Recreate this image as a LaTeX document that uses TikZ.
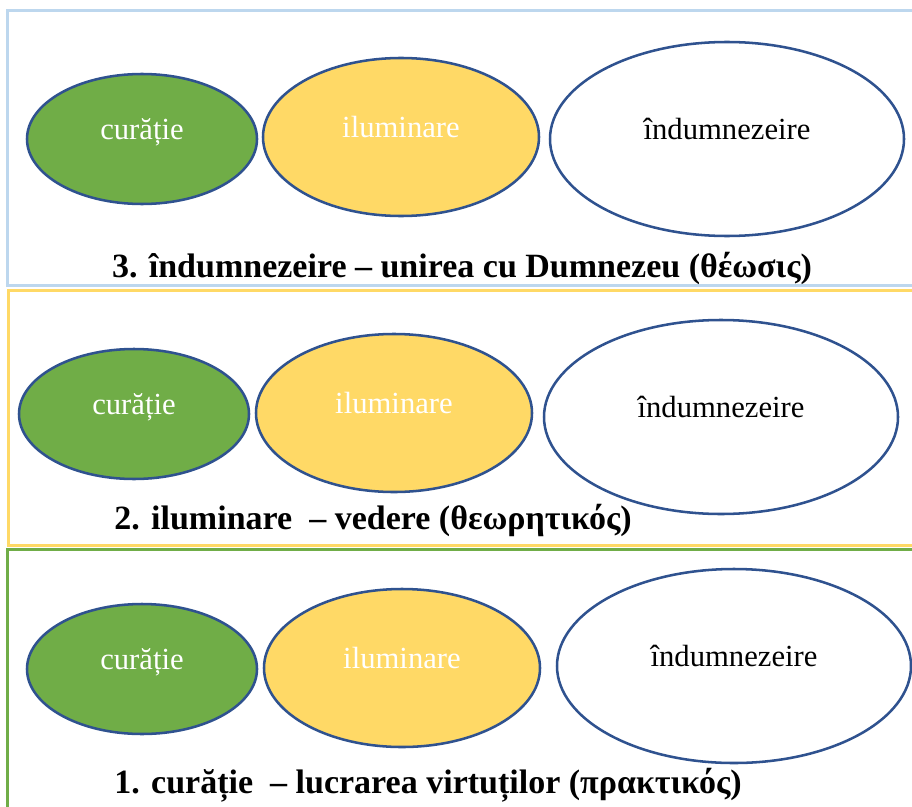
\documentclass[tikz,border=0pt]{standalone}
\usepackage{fontspec}
\setmainfont{Liberation Serif}
\usepackage{xcolor}
\usepackage{tikz}
\usetikzlibrary{shapes.geometric}

\definecolor{panelblue}{HTML}{BDD7EE}
\definecolor{panelyellow}{HTML}{FFD966}
\definecolor{panelgreen}{HTML}{70AD47}
\definecolor{ringblue}{HTML}{2F528F}

\begin{document}
\begin{tikzpicture}[x=0.75pt, y=-0.75pt,
  ell/.style={ellipse, draw=ringblue, line width=1.9pt, inner sep=0pt},
  pure/.style={ell, fill=panelgreen, minimum width=172.5pt, minimum height=97.5pt},
  light/.style={ell, fill=panelyellow, minimum width=207pt, minimum height=118.5pt},
  divine/.style={ell, fill=white, minimum width=265.5pt, minimum height=145.5pt},
  word/.style={font=\fontsize{23}{27}\selectfont, text height=0.7em, text depth=0.2em, inner sep=0pt, yshift=2pt},
  stage/.style={font=\bfseries\fontsize{25.5}{30}\selectfont},
  panel/.style={line width=2.25pt}]
\useasboundingbox (0,0) rectangle (912,806);
\clip (0,0) rectangle (912,806);

% the three bands
\draw[panel, draw=panelblue] (7,11) rectangle (925,285);
\draw[panel, draw=panelyellow] (8,290) rectangle (925,545);
\draw[panel, draw=panelgreen] (7,549) rectangle (925,830);

% 3. theosis
\node (pure3) [pure, label={[word, text=white]center:curăție}] at (142,139) {};
\node (light3) [light, label={[word, text=white]center:iluminare}] at (401,137) {};
\node (divine3) [divine, label={[word]center:îndumnezeire}] at (727,139) {};
\node (stage3) [stage] at (462,268) {3. îndumnezeire – unirea cu Dumnezeu (θέωσις)};

% 2. theoria
\node (pure2) [pure, label={[word, text=white]center:curăție}] at (134,414) {};
\node (light2) [light, label={[word, text=white]center:iluminare}] at (394,413) {};
\node (divine2) [divine, label={[word]center:îndumnezeire}] at (721,417) {};
\node (stage2) [stage] at (373,520) {2. iluminare\ \ – vedere (θεωρητικός)};

% 1. praxis
\node (pure1) [pure, label={[word, text=white]center:curăție}] at (142,669) {};
\node (light1) [light, label={[word, text=white]center:iluminare}] at (402,668) {};
\node (divine1) [divine, label={[word]center:îndumnezeire}] at (734,666) {};
\node (stage1) [stage] at (428,785) {1. curăție\ \ – lucrarea virtuților (πρακτικός)};

\end{tikzpicture}
\end{document}
